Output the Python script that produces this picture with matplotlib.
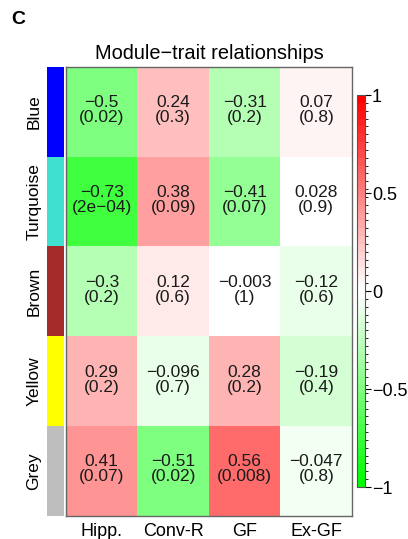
import matplotlib
matplotlib.use("Agg")
import matplotlib.pyplot as plt
import numpy as np
from matplotlib.colors import ListedColormap, BoundaryNorm

plt.rcParams['font.family'] = ['Liberation Sans', 'DejaVu Sans']

modules = ["Blue", "Turquoise", "Brown", "Yellow", "Grey"]
module_colors = ["#0000FF", "#40E0D0", "#A52A2A", "#FFFF00", "#BEBEBE"]
traits = ["Hipp.", "Conv-R", "GF", "Ex-GF"]
corr = np.array([
    [-0.5, 0.24, -0.31, 0.07],
    [-0.73, 0.38, -0.41, 0.028],
    [-0.3, 0.12, -0.003, -0.12],
    [0.29, -0.096, 0.28, -0.19],
    [0.41, -0.51, 0.56, -0.047],
])
pvals = [
    ["0.02", "0.3", "0.2", "0.8"],
    ["2e\u221204", "0.09", "0.07", "0.9"],
    ["0.2", "0.6", "1", "0.6"],
    ["0.2", "0.7", "0.2", "0.4"],
    ["0.07", "0.02", "0.008", "0.8"],
]
cbar_ticks = [-1, -0.5, 0, 0.5, 1]

W, H = 408, 539
fig = plt.figure(figsize=(W / 100, H / 100), dpi=100)

def box(l, t, r, b):
    return [l / W, 1 - b / H, (r - l) / W, (b - t) / H]

# WGCNA-style greenWhiteRed(50) binned palette
n = 50
half = n // 2
up = np.linspace(0, 1, half)
down = np.linspace(1, 0, half)
red = np.concatenate([up, np.ones(half)])
green = np.concatenate([np.ones(half), down])
blue = np.concatenate([up, down])
cmap = ListedColormap(np.column_stack([red, green, blue]))
norm = BoundaryNorm(np.linspace(-1, 1, n + 1), n)

ax = fig.add_axes(box(66, 67, 352, 516))
im = ax.imshow(corr, cmap=cmap, norm=norm, aspect='auto', interpolation='nearest')
for i in range(len(modules)):
    for j in range(len(traits)):
        lab = '{:.2g}'.format(corr[i, j]).replace('-', '\u2212')
        ax.text(j, i - 0.02, lab + "\n(" + pvals[i][j] + ")", ha='center', va='center',
                fontsize=12.5, color='#1a1a1a', linespacing=1.0)
ax.set_xticks(range(len(traits)))
ax.set_xticklabels(traits, fontsize=13)
ax.tick_params(axis='x', length=0, pad=5)
ax.set_yticks([])
for s in ax.spines.values():
    s.set_color('#666666')
    s.set_linewidth(1)
ax.set_title("Module\u2212trait relationships", fontsize=14.4, pad=6)

sax = fig.add_axes(box(47, 67, 64, 516))
sax.imshow(np.arange(len(modules)).reshape(-1, 1),
           cmap=ListedColormap(module_colors), aspect='auto',
           interpolation='nearest')
sax.set_xticks([])
sax.set_yticks(range(len(modules)))
sax.set_yticklabels(modules, rotation=90, va='center', fontsize=12.5)
sax.tick_params(axis='y', length=0, pad=4)
for s in sax.spines.values():
    s.set_visible(False)

cax = fig.add_axes(box(357, 95, 365, 487))
sm = plt.cm.ScalarMappable(cmap=cmap, norm=norm)
cb = fig.colorbar(sm, cax=cax, ticks=cbar_ticks)
cb.ax.set_yticklabels([('{:g}'.format(t)).replace('-', '\u2212') for t in cbar_ticks], fontsize=13)
cb.ax.tick_params(length=4, width=0.8, pad=1)
cb.outline.set_edgecolor('#555555')
cb.outline.set_linewidth(0.8)

fig.text(11 / W, 1 - 20 / H, "C", fontsize=14, fontweight='bold', va='center', ha='left')

fig.savefig("out.png", dpi=100)
